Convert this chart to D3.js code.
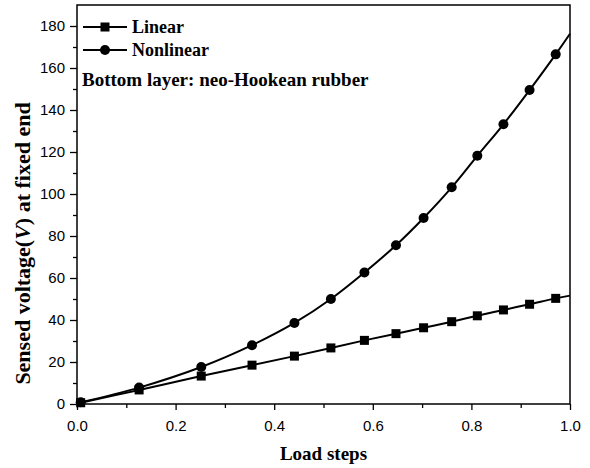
<!DOCTYPE html>
<html>
<head>
<meta charset="utf-8">
<script src="https://cdn.jsdelivr.net/npm/d3@7"></script>
<style>
  body { margin: 0; background: #fff; }
  svg { display: block; }
</style>
</head>
<body>
<svg id="chart" width="590" height="468"></svg>
<script>
// ---- data ----
const loadSteps = [0.0075, 0.126, 0.252, 0.355, 0.441, 0.515, 0.583, 0.647, 0.703, 0.760, 0.812, 0.865, 0.918, 0.971, 1.0];
const linearV    = [0.6, 6.7, 13.3, 18.5, 22.8, 26.7, 30.3, 33.5, 36.3, 39.2, 42.0, 44.8, 47.5, 50.3, 51.6];
const nonlinearV = [0.8, 7.8, 17.6, 28.0, 38.6, 50.0, 62.6, 75.6, 88.6, 103.2, 118.2, 133.2, 149.5, 166.5, 176.3];
// last entry of each series is where the fitted curve meets the right frame (no marker)
const markerCount = 14;
const xTicks = [0, 0.2, 0.4, 0.6, 0.8, 1.0];
const yTicks = [0, 20, 40, 60, 80, 100, 120, 140, 160, 180];
const seriesNames = ["Linear", "Nonlinear"];
const noteText = "Bottom layer: neo-Hookean rubber";

const svg = d3.select("#chart");
const pLeft = 77, pRight = 570, pTop = 5, pBottom = 404;

const x = d3.scaleLinear().domain([0, 1]).range([pLeft, pRight]);
const y = d3.scaleLinear().domain([0, 190]).range([pBottom, pTop]);

// axes
const xAxis = d3.axisBottom(x).tickValues(xTicks).tickFormat(d3.format(".1f")).tickSize(6).tickPadding(10);
const xMinor = d3.axisBottom(x).tickValues(d3.range(0.1, 1, 0.2)).tickFormat("").tickSize(4);
const yAxis = d3.axisLeft(y).tickValues(yTicks).tickFormat(d3.format("d")).tickSize(7).tickPadding(5);
const yMinor = d3.axisLeft(y).tickValues(d3.range(10, 190, 20)).tickFormat("").tickSize(4);

function styleAxis(g) {
  g.selectAll(".domain").remove();
  g.selectAll("line").attr("stroke", "#000").attr("stroke-width", 1.3);
  g.selectAll("text").attr("fill", "#000").style("font-family", "'Liberation Sans', Arial, sans-serif").style("font-size", "15px");
}

svg.append("g").attr("transform", `translate(0,${pBottom})`).call(xAxis).call(styleAxis);
svg.append("g").attr("transform", `translate(0,${pBottom})`).call(xMinor).call(styleAxis);
svg.append("g").attr("transform", `translate(${pLeft},0)`).call(yAxis).call(styleAxis);
svg.append("g").attr("transform", `translate(${pLeft},0)`).call(yMinor).call(styleAxis);

// frame
svg.append("rect")
  .attr("x", pLeft).attr("y", pTop).attr("width", pRight - pLeft).attr("height", pBottom - pTop)
  .attr("fill", "none").attr("stroke", "#000").attr("stroke-width", 1.5);

// lines
const line = d3.line().x(d => x(d[0])).y(d => y(d[1])).curve(d3.curveCatmullRom.alpha(0.5));
const linData = loadSteps.map((s, i) => [s, linearV[i]]);
const nonData = loadSteps.map((s, i) => [s, nonlinearV[i]]);

[linData, nonData].forEach(data => {
  svg.append("path").datum(data).attr("d", line)
    .attr("fill", "none").attr("stroke", "#000").attr("stroke-width", 2);
});

// markers
svg.append("g").selectAll("rect").data(linData.slice(0, markerCount)).join("rect")
  .attr("x", d => x(d[0]) - 4.5).attr("y", d => y(d[1]) - 4.5)
  .attr("width", 9).attr("height", 9).attr("fill", "#000");
svg.append("g").selectAll("circle").data(nonData.slice(0, markerCount)).join("circle")
  .attr("cx", d => x(d[0])).attr("cy", d => y(d[1])).attr("r", 5).attr("fill", "#000");

// legend
const serif = "'Liberation Serif', 'Times New Roman', serif";
const lg = svg.append("g");
seriesNames.forEach((name, i) => {
  const cy = 27 + i * 23;
  lg.append("line").attr("x1", 83).attr("x2", 127).attr("y1", cy).attr("y2", cy)
    .attr("stroke", "#000").attr("stroke-width", 2);
  if (i === 0) {
    lg.append("rect").attr("x", 105 - 4.5).attr("y", cy - 4.5).attr("width", 9).attr("height", 9).attr("fill", "#000");
  } else {
    lg.append("circle").attr("cx", 105).attr("cy", cy).attr("r", 5).attr("fill", "#000");
  }
  lg.append("text").attr("x", 132).attr("y", cy + 6).text(name)
    .style("font-family", serif).style("font-weight", "bold").style("font-size", "18px");
});
svg.append("text").attr("x", 82).attr("y", 86).text(noteText)
  .style("font-family", serif).style("font-weight", "bold").style("font-size", "19px");

// axis titles
svg.append("text").attr("x", (pLeft + pRight) / 2).attr("y", 460).attr("text-anchor", "middle")
  .text("Load steps")
  .style("font-family", serif).style("font-weight", "bold").style("font-size", "19px");

const yt = svg.append("text").attr("transform", "translate(30,243.5) rotate(-90) scale(1.1,1)").attr("text-anchor", "middle")
  .style("font-family", serif).style("font-weight", "bold").style("font-size", "20px");
yt.append("tspan").text("Sensed voltage(");
yt.append("tspan").style("font-style", "italic").text("V");
yt.append("tspan").text(") at fixed end");
</script>
</body>
</html>
